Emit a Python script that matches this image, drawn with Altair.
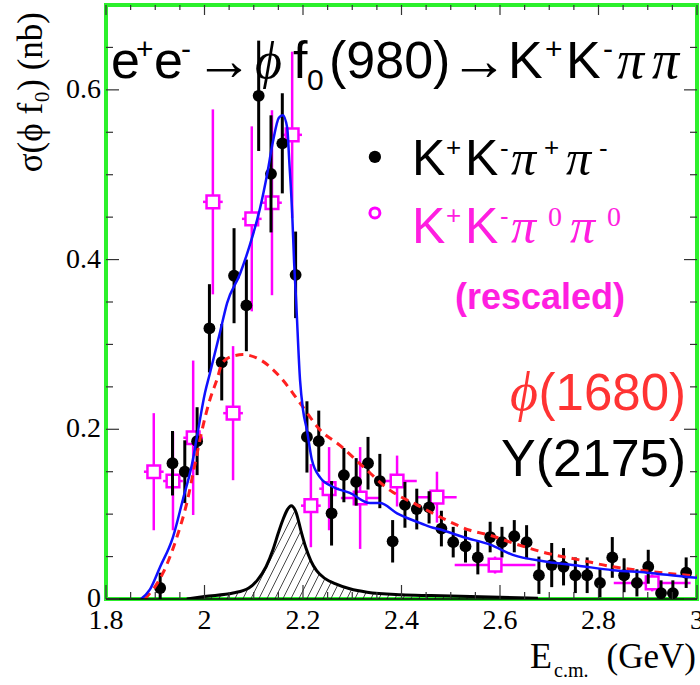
import altair as alt
import numpy as np
import pandas as pd

# ---------------- data ----------------
kk_x = [1.910, 1.935, 1.960, 1.985, 2.010, 2.035, 2.060, 2.085, 2.110, 2.135, 2.158, 2.185,
        2.208, 2.232, 2.258, 2.283, 2.308, 2.332, 2.356, 2.382, 2.407, 2.431, 2.456, 2.481,
        2.505, 2.530, 2.555, 2.580, 2.604, 2.629, 2.654, 2.679, 2.705, 2.729, 2.753, 2.777,
        2.803, 2.828, 2.852, 2.878, 2.901, 2.927, 2.951, 2.978]
kk_y = [0.013, 0.160, 0.150, 0.186, 0.319, 0.279, 0.381, 0.346, 0.593, 0.501, 0.537, 0.382,
        0.191, 0.186, 0.101, 0.146, 0.138, 0.160, 0.139, 0.068, 0.111, 0.106, 0.108, 0.083,
        0.067, 0.062, 0.049, 0.073, 0.067, 0.074, 0.067, 0.028, 0.040, 0.038, 0.028, 0.028,
        0.019, 0.049, 0.028, 0.019, 0.038, 0.007, 0.007, 0.031]
kk_e = [0.018, 0.038, 0.037, 0.040, 0.052, 0.045, 0.056, 0.054, 0.065, 0.069, 0.059, 0.051,
        0.042, 0.036, 0.038, 0.032, 0.028, 0.031, 0.032, 0.025, 0.027, 0.024, 0.019, 0.021,
        0.018, 0.019, 0.020, 0.018, 0.018, 0.019, 0.020, 0.022, 0.026, 0.022, 0.021, 0.021,
        0.017, 0.024, 0.020, 0.016, 0.020, 0.015, 0.015, 0.018]

pp_x = [1.897, 1.936, 1.977, 2.017, 2.058, 2.096, 2.137, 2.178, 2.216, 2.253, 2.316, 2.391,
        2.472, 2.590, 2.909]
pp_y = [0.150, 0.139, 0.190, 0.468, 0.219, 0.448, 0.467, 0.547, 0.110, 0.130, 0.119, 0.139,
        0.120, 0.040, 0.019]
pp_ey = [0.069, 0.058, 0.091, 0.109, 0.079, 0.109, 0.109, 0.098, 0.049, 0.049, 0.060, 0.030,
         0.030, 0.010, 0.010]
pp_ex = [0.020, 0.020, 0.020, 0.020, 0.020, 0.020, 0.020, 0.020, 0.020, 0.020, 0.039, 0.040,
         0.040, 0.082, 0.078]

fit_x = [1.871, 1.889, 1.910, 1.936, 1.956, 1.975, 1.987, 2.001, 2.011, 2.031, 2.046, 2.072,
         2.092, 2.113, 2.127, 2.139, 2.151, 2.159, 2.168, 2.172, 2.178, 2.182, 2.186, 2.194,
         2.200, 2.208, 2.218, 2.235, 2.261, 2.295, 2.336, 2.356, 2.391, 2.431, 2.458, 2.484,
         2.525, 2.580, 2.626, 2.695, 2.762, 2.829, 2.898, 2.980, 3.000]
fit_y = [0.000, 0.011, 0.038, 0.073, 0.117, 0.160, 0.199, 0.243, 0.266, 0.313, 0.349, 0.383,
         0.417, 0.461, 0.500, 0.539, 0.567, 0.570, 0.555, 0.517, 0.455, 0.396, 0.352, 0.258,
         0.223, 0.199, 0.164, 0.143, 0.132, 0.125, 0.113, 0.113, 0.101, 0.091, 0.085, 0.081,
         0.073, 0.064, 0.052, 0.044, 0.039, 0.034, 0.031, 0.026, 0.025]

phi_x = [1.879, 1.916, 1.944, 1.964, 1.981, 1.995, 2.011, 2.025, 2.036, 2.056, 2.078, 2.113,
         2.153, 2.194, 2.235, 2.275, 2.322, 2.377, 2.431, 2.484, 2.539, 2.580, 2.626, 2.695,
         2.762, 2.829, 2.898, 2.980, 3.000]
phi_y = [0.000, 0.031, 0.073, 0.113, 0.160, 0.199, 0.235, 0.258, 0.278, 0.286, 0.288, 0.282,
         0.262, 0.231, 0.199, 0.181, 0.156, 0.128, 0.111, 0.095, 0.081, 0.075, 0.066, 0.054,
         0.046, 0.038, 0.033, 0.028, 0.027]

y2175_x = [1.964, 2.000, 2.058, 2.090, 2.107, 2.125, 2.139, 2.150, 2.159, 2.168, 2.176, 2.186,
           2.196, 2.206, 2.216, 2.228, 2.245, 2.265, 2.295, 2.330, 2.400, 2.460, 2.677]
y2175_y = [0.000, 0.003, 0.007, 0.013, 0.022, 0.038, 0.058, 0.078, 0.093, 0.105, 0.110, 0.102,
           0.080, 0.060, 0.045, 0.033, 0.024, 0.018, 0.012, 0.008, 0.005, 0.004, 0.001]

x_major = [1.8, 2.0, 2.2, 2.4, 2.6, 2.8, 3.0]
x_labels = ["1.8", "2", "2.2", "2.4", "2.6", "2.8", "3"]
x_minor = [1.85, 1.9, 1.95, 2.05, 2.1, 2.15, 2.25, 2.3, 2.35, 2.45, 2.5, 2.55,
           2.65, 2.7, 2.75, 2.85, 2.9, 2.95]
y_major = [0.0, 0.2, 0.4, 0.6]
y_labels = ["0", "0.2", "0.4", "0.6"]
y_minor = [0.05, 0.1, 0.15, 0.25, 0.3, 0.35, 0.45, 0.5, 0.55, 0.65]

# ---------------- layout ----------------
W, H = 591, 594
LEFT, TOP = 106, 5
XMIN, XMAX, YMIN, YMAX = 1.8, 3.0, 0.0, 0.7
xs = alt.Scale(domain=[XMIN, XMAX], nice=False, zero=False)
ys = alt.Scale(domain=[YMIN, YMAX], nice=False, zero=False)
SANS = "Liberation Sans, Arimo, DejaVu Sans"
SERIF = "Liberation Serif, DejaVu Serif"
MAG = "#ff00ff"
MAGT = "#ff1ee0"
RED = "#ff3333"


def X(f):
    return alt.X(f, type="quantitative", scale=xs, axis=None)


def Y(f):
    return alt.Y(f, type="quantitative", scale=ys, axis=None)


kk = pd.DataFrame({"x": kk_x, "y": kk_y, "e": kk_e})
kk["lo"] = kk.y - kk.e
kk["hi"] = kk.y + kk.e
pp = pd.DataFrame({"x": pp_x, "y": pp_y, "ey": pp_ey, "ex": pp_ex})
pp["lo"] = pp.y - pp.ey
pp["hi"] = pp.y + pp.ey
pp["xl"] = pp.x - pp.ex
pp["xh"] = pp.x + pp.ex

fit = pd.DataFrame({"x": fit_x, "y": fit_y})
phi = pd.DataFrame({"x": phi_x, "y": phi_y})
yc = pd.DataFrame({"x": y2175_x, "y": y2175_y})

# hatching of the Y(2175) component, derived from its curve
pxx = W / (XMAX - XMIN)
pxy = H / (YMAX - YMIN)
segs = []
x_lo_px = (min(y2175_x) - XMIN) * pxx - 80
x_hi_px = (max(y2175_x) - XMIN) * pxx
for x0 in np.arange(x_lo_px, x_hi_px, 8.0):
    t = np.arange(0, 130, 0.25)
    xx = x0 + t
    xd = XMIN + xx / pxx
    hh = np.interp(xd, y2175_x, y2175_y, left=0, right=0) * pxy
    yy = 2.0 * t
    inside = (yy <= hh - 1.0) & (hh > 2.0)
    i = 0
    n = len(t)
    while i < n:
        if inside[i]:
            j = i
            while j + 1 < n and inside[j + 1]:
                j += 1
            if j > i:
                segs.append((xd[i], yy[i] / pxy, xd[j], yy[j] / pxy))
            i = j + 1
        else:
            i += 1
hatch = pd.DataFrame(segs, columns=["x", "y", "x2", "y2"])

layers = []

# hatch + Y(2175) curve
layers.append(alt.Chart(hatch).mark_rule(color="#333333", strokeWidth=0.9, clip=True).encode(
    x=X("x"), y=Y("y"), x2="x2", y2="y2"))
layers.append(alt.Chart(yc).mark_line(color="black", strokeWidth=3, interpolate="monotone",
                                      clip=True).encode(x=X("x"), y=Y("y")))

# magenta K+K-pi0pi0
layers.append(alt.Chart(pp).mark_rule(color=MAG, strokeWidth=2.5, clip=True).encode(
    x=X("x"), y=Y("lo"), y2="hi"))
layers.append(alt.Chart(pp).mark_rule(color=MAG, strokeWidth=2.5, clip=True).encode(
    x=X("xl"), x2="xh", y=Y("y")))
layers.append(alt.Chart(pp).mark_square(size=160, fill="white", stroke=MAG, strokeWidth=2.5,
                                        opacity=1, clip=True).encode(x=X("x"), y=Y("y")))

# black K+K-pi+pi-
layers.append(alt.Chart(kk).mark_rule(color="black", strokeWidth=3, clip=True).encode(
    x=X("x"), y=Y("lo"), y2="hi"))
layers.append(alt.Chart(kk).mark_circle(size=140, color="black", opacity=1, clip=True).encode(
    x=X("x"), y=Y("y")))

# curves
layers.append(alt.Chart(phi).mark_line(color="#ff2020", strokeWidth=3, strokeDash=[8, 6],
                                       interpolate="monotone", clip=True).encode(x=X("x"), y=Y("y")))
layers.append(alt.Chart(fit).mark_line(color="#1010ff", strokeWidth=2.5, interpolate="monotone",
                                       clip=True).encode(x=X("x"), y=Y("y")))

# frame line at the bottom, inward ticks, tick labels
layers.append(alt.Chart(pd.DataFrame({"v": [0.0]})).mark_rule(color="black", strokeWidth=1.5).encode(
    y=Y("v"), x=alt.value(0), x2=alt.value(W)))
TC = "#333333"
layers.append(alt.Chart(pd.DataFrame({"v": x_major})).mark_rule(color=TC, strokeWidth=1.2).encode(
    x=X("v"), y=alt.value(H), y2=alt.value(H - 14)))
layers.append(alt.Chart(pd.DataFrame({"v": x_minor})).mark_rule(color=TC, strokeWidth=1.2).encode(
    x=X("v"), y=alt.value(H), y2=alt.value(H - 7)))
layers.append(alt.Chart(pd.DataFrame({"v": x_major})).mark_rule(color=TC, strokeWidth=1.2).encode(
    x=X("v"), y=alt.value(0), y2=alt.value(10)))
layers.append(alt.Chart(pd.DataFrame({"v": x_minor})).mark_rule(color=TC, strokeWidth=1.2).encode(
    x=X("v"), y=alt.value(0), y2=alt.value(5)))
layers.append(alt.Chart(pd.DataFrame({"v": y_major})).mark_rule(color=TC, strokeWidth=1.2).encode(
    y=Y("v"), x=alt.value(0), x2=alt.value(13)))
layers.append(alt.Chart(pd.DataFrame({"v": y_minor})).mark_rule(color=TC, strokeWidth=1.2).encode(
    y=Y("v"), x=alt.value(0), x2=alt.value(7)))
layers.append(alt.Chart(pd.DataFrame({"v": y_major})).mark_rule(color=TC, strokeWidth=1.2).encode(
    y=Y("v"), x=alt.value(W), x2=alt.value(W - 13)))
layers.append(alt.Chart(pd.DataFrame({"v": y_minor})).mark_rule(color=TC, strokeWidth=1.2).encode(
    y=Y("v"), x=alt.value(W), x2=alt.value(W - 7)))

layers.append(alt.Chart(pd.DataFrame({"v": x_major, "t": x_labels})).mark_text(
    font=SERIF, fontSize=28, color="black", align="center", baseline="top").encode(
    x=X("v"), y=alt.value(H + 8), text="t:N"))
layers.append(alt.Chart(pd.DataFrame({"v": y_major, "t": y_labels})).mark_text(
    font=SERIF, fontSize=28, color="black", align="right", baseline="middle").encode(
    y=Y("v"), x=alt.value(-5), text="t:N"))


def ptxt(s, px, py, size, color="black", font=SANS, style="normal", weight="normal",
         align="left", baseline="alphabetic", angle=0):
    """text placed at page pixel (px, py)"""
    d = pd.DataFrame({"t": [s]})
    return alt.Chart(d).mark_text(align=align, baseline=baseline, fontSize=size, font=font,
                                  fontStyle=style, fontWeight=weight, color=color, angle=angle,
                                  clip=False).encode(
        x=alt.value(px - LEFT), y=alt.value(py - TOP), text="t:N")


# title inside the frame: e+e- -> phi f0(980) -> K+K- pi pi
TB = 78
for s, px, py, sz, fnt, sty in [
    ("e", 111, TB, 52, SANS, "normal"),
    ("+", 136, 59, 30, SANS, "normal"),
    ("e", 154, TB, 52, SANS, "normal"),
    ("-", 181, 59, 30, SANS, "normal"),
    ("→", 195, 80, 58, SANS, "normal"),
    ("ϕ", 255, TB, 52, SERIF, "italic"),
    ("f", 293, TB, 52, SANS, "normal"),
    ("0", 307, 90, 30, SANS, "normal"),
    ("(980)", 329, TB, 52, SANS, "normal"),
    ("→", 450, 80, 58, SANS, "normal"),
    ("K", 508, TB, 52, SANS, "normal"),
    ("+", 545, 59, 30, SANS, "normal"),
    ("K", 566, TB, 52, SANS, "normal"),
    ("-", 603, 59, 30, SANS, "normal"),
    ("π", 617, TB, 54, SERIF, "italic"),
    ("π", 652, TB, 54, SERIF, "italic"),
]:
    layers.append(ptxt(s, px, py, sz, font=fnt, style=sty))

# legend
leg = pd.DataFrame({"x": [2.346], "y": [0.521]})
layers.append(alt.Chart(leg).mark_circle(size=150, color="black", opacity=1).encode(x=X("x"), y=Y("y")))
leg2 = pd.DataFrame({"x": [2.346], "y": [0.455]})
layers.append(alt.Chart(leg2).mark_point(size=100, color=MAG, strokeWidth=3, opacity=1).encode(
    x=X("x"), y=Y("y")))

for s, px, py, sz, fnt, sty, col in [
    ("K", 412, 175, 50, SANS, "normal", "black"),
    ("+", 446, 156, 26, SANS, "normal", "black"),
    ("K", 465, 175, 50, SANS, "normal", "black"),
    ("-", 500, 157, 26, SANS, "normal", "black"),
    ("π", 511, 175, 50, SERIF, "italic", "black"),
    ("+", 544, 156, 26, SANS, "normal", "black"),
    ("π", 566, 175, 50, SERIF, "italic", "black"),
    ("-", 599, 157, 26, SANS, "normal", "black"),
    ("K", 412, 243, 50, SANS, "normal", MAGT),
    ("+", 446, 224, 26, SANS, "normal", MAGT),
    ("K", 465, 243, 50, SANS, "normal", MAGT),
    ("-", 500, 225, 26, SANS, "normal", MAGT),
    ("π", 511, 243, 50, SERIF, "italic", MAGT),
    ("0", 548, 226, 28, SERIF, "normal", MAGT),
    ("π", 570, 243, 50, SERIF, "italic", MAGT),
    ("0", 607, 226, 28, SERIF, "normal", MAGT),
]:
    layers.append(ptxt(s, px, py, sz, color=col, font=fnt, style=sty))

layers.append(ptxt("(rescaled)", 540, 309, 36, color=MAGT, weight="bold", align="center"))

# component labels
layers.append(ptxt("ϕ", 538, 410, 54, color=RED, font=SERIF, style="italic", align="right"))
layers.append(ptxt("(1680)", 686, 410, 51, color=RED, align="right"))
layers.append(ptxt("Y(2175)", 686, 476, 52, align="right"))

# axis titles
layers.append(ptxt("σ(ϕ f₀) (nb)", 31, 12, 35, font=SERIF, align="right", baseline="middle",
                   angle=270))
layers.append(ptxt("E", 530, 668, 36, font=SERIF))
layers.append(ptxt("c.m.", 554, 677, 20, font=SERIF))
layers.append(ptxt("(GeV)", 696, 668, 35, font=SERIF, align="right"))

chart = alt.layer(*layers).properties(
    width=W, height=H,
    padding={"left": LEFT, "top": TOP, "right": 3, "bottom": 86},
    autosize=alt.AutoSizeParams(type="none"),
    background="white",
).configure_view(stroke="#2cf02c", strokeWidth=4)

chart.save("out.html", embed_options={"renderer": "svg", "actions": False})
